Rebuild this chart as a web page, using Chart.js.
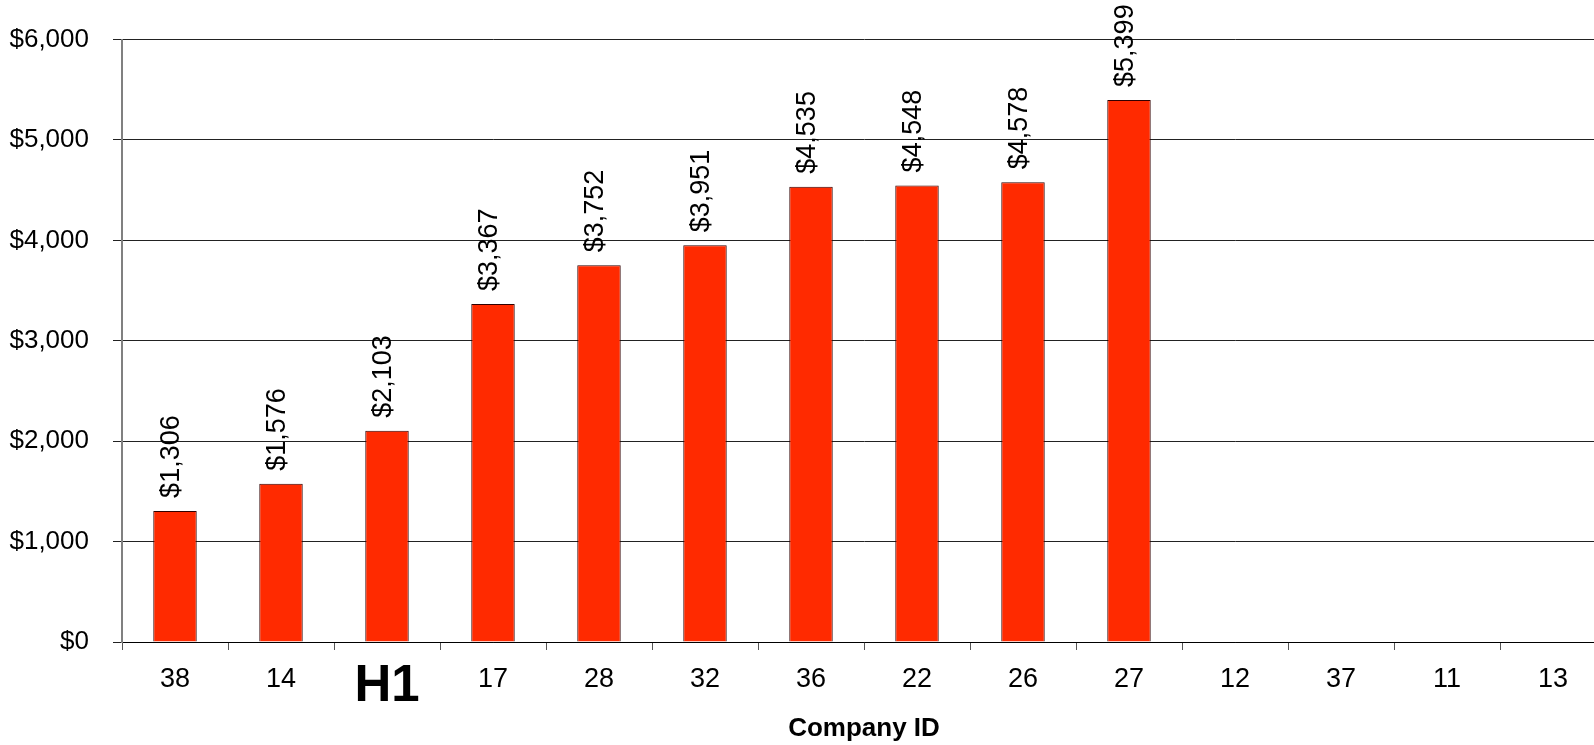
<!DOCTYPE html>
<html>
<head>
<meta charset="utf-8">
<script src="https://cdn.jsdelivr.net/npm/chart.js@4/dist/chart.umd.min.js"></script>
<style>
  html, body { margin: 0; padding: 0; background: #fff; overflow: hidden; }
  #wrap { width: 1606px; height: 745px; }
</style>
</head>
<body>
<div id="wrap"><canvas id="chart"></canvas></div>
<script>
// company ids along the x axis
const companies = ['38', '14', 'H1', '17', '28', '32', '36', '22', '26', '27', '12', '37', '11', '13'];
// dollar values per company (no bar for the last four)
const amounts = [1306, 1576, 2103, 3367, 3752, 3951, 4535, 4548, 4578, 5399, null, null, null, null];
const yTicks = [0, 1000, 2000, 3000, 4000, 5000, 6000];

const fontFamily = '"Liberation Sans", Arial, sans-serif';

function money(v) {
  return '$' + v.toLocaleString('en-US');
}

// value labels written upwards above each bar
const barLabels = {
  id: 'barLabels',
  afterDatasetsDraw(chart) {
    const ctx = chart.ctx;
    const meta = chart.getDatasetMeta(0);
    ctx.save();
    ctx.fillStyle = '#000';
    ctx.font = '27px ' + fontFamily;
    meta.data.forEach(function (bar, i) {
      const v = amounts[i];
      if (v === null) return;
      ctx.save();
      ctx.translate(bar.x - 3, bar.y - 13);
      ctx.rotate(-Math.PI / 2);
      ctx.textAlign = 'left';
      ctx.textBaseline = 'middle';
      ctx.fillText(money(v), 0, 0);
      ctx.restore();
    });
    ctx.restore();
  }
};

const ctx = document.getElementById('chart').getContext('2d');
const chart = new Chart(ctx, {
  type: 'bar',
  data: {
    labels: companies,
    datasets: [{
      data: amounts,
      backgroundColor: '#ff2a00',
      borderColor: '#300000',
      borderWidth: 1,
      borderSkipped: 'bottom',
      barPercentage: 0.82,
      categoryPercentage: 0.5
    }]
  },
  options: {
    responsive: true,
    maintainAspectRatio: false,
    animation: false,
    layout: { padding: { top: 33, right: 0, left: 0, bottom: 0 } },
    plugins: {
      legend: { display: false },
      tooltip: { enabled: false }
    },
    scales: {
      x: {
        offset: true,
        grid: {
          offset: true,
          drawOnChartArea: false,
          drawTicks: true,
          tickLength: 8,
          color: '#555'
        },
        border: { color: '#000', width: 1 },
        ticks: {
          color: '#000',
          padding: 13,
          maxRotation: 0,
          autoSkip: false,
          font: function (c) {
            if (c.tick && c.tick.label === 'H1') {
              return { family: fontFamily, size: 51, weight: 'bold', lineHeight: 0.95 };
            }
            return { family: fontFamily, size: 27 };
          }
        },
        title: {
          display: true,
          text: 'Company ID',
          color: '#000',
          font: { family: fontFamily, size: 26, weight: 'bold' },
          padding: { top: 4, bottom: 1 }
        },
        afterFit: function (scale) { scale.height = 103; }
      },
      y: {
        min: 0,
        max: 6000,
        afterBuildTicks: function (scale) {
          scale.ticks = yTicks.map(function (v) { return { value: v }; });
        },
        grid: {
          color: '#222',
          lineWidth: 1,
          tickLength: 9
        },
        border: { color: '#808080', width: 2 },
        ticks: {
          color: '#000',
          padding: 24,
          font: { family: fontFamily, size: 26 },
          callback: function (v) { return money(v); }
        },
        afterFit: function (scale) { scale.width = 122; }
      }
    }
  },
  plugins: [barLabels]
});
</script>
</body>
</html>
